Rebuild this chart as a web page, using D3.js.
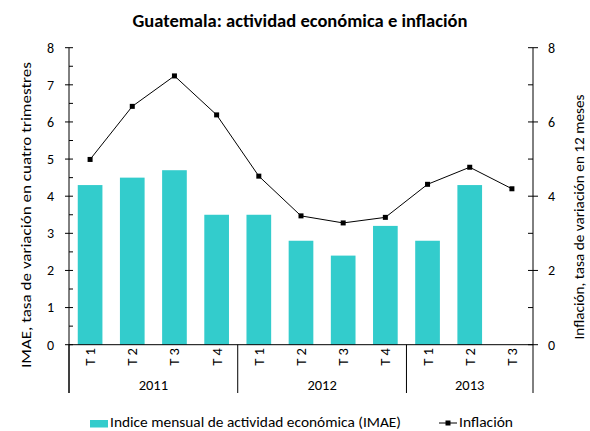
<!DOCTYPE html>
<html><head><meta charset="utf-8">
<script src="https://cdn.jsdelivr.net/npm/d3@7"></script>
<style>
body{margin:0;background:#fff;}
text{font-family:Carlito,Lato,"Liberation Sans",sans-serif;fill:#000;}
</style></head>
<body><svg id="c" width="590" height="431"></svg>
<script>
const quarters = ["T 1","T 2","T 3","T 4","T 1","T 2","T 3","T 4","T 1","T 2","T 3"];
const years = [{label:"2011", start:0, end:4},{label:"2012", start:4, end:8},{label:"2013", start:8, end:11}];
const imae = [4.3, 4.5, 4.7, 3.5, 3.5, 2.8, 2.4, 3.2, 2.8, 4.3, null];
const inflacion = [4.99, 6.42, 7.24, 6.19, 4.54, 3.47, 3.28, 3.43, 4.32, 4.78, 4.2];
const leftTicks = [0,1,2,3,4,5,6,7,8];
const rightTicks = [0,2,4,6,8];

const svg = d3.select("#c");
const L = 69, R = 533, T = 47.7, B = 344.7, catBottom = 393;
const idx = d3.range(quarters.length);
const x = d3.scaleBand().domain(idx).range([L, R]).paddingInner(0.415).paddingOuter(0.2075);
const xs = d3.scaleBand().domain(idx).range([L, R]);
const yL = d3.scaleLinear().domain([0, 8]).range([B, T]);
const yR = d3.scaleLinear().domain([0, 8]).range([B, T]);

svg.append("text").attr("x", 300).attr("y", 26.5).attr("text-anchor","middle")
  .attr("font-size", 17.5).attr("font-weight","bold")
  .attr("textLength", 335).attr("lengthAdjust","spacingAndGlyphs")
  .text("Guatemala: actividad económica e inflación");

// bars
svg.append("g").selectAll("rect").data(idx.filter(i => imae[i] != null)).join("rect")
  .attr("x", i => x(i)).attr("width", x.bandwidth())
  .attr("y", i => yL(imae[i])).attr("height", i => yL(0) - yL(imae[i]))
  .attr("fill", "#33CCCC");

// left axis
const gl = svg.append("g").attr("transform", `translate(${L},0)`);
gl.append("line").attr("y1", T).attr("y2", catBottom).attr("stroke","#000");
gl.selectAll(".maj").data(leftTicks).join("line").attr("x1",-4).attr("x2",4)
  .attr("y1", d=>yL(d)).attr("y2", d=>yL(d)).attr("stroke","#000");
gl.selectAll(".min").data(d3.range(0.5, 8, 1)).join("line").attr("class","min").attr("x1",0).attr("x2",4)
  .attr("y1", d=>yL(d)).attr("y2", d=>yL(d)).attr("stroke","#000");
gl.selectAll("text").data(leftTicks).join("text").attr("x",-15).attr("y", d=>yL(d)).attr("dy","0.35em")
  .attr("text-anchor","end").attr("font-size",14).text(d=>d);

// right axis
const gr = svg.append("g").attr("transform", `translate(${R},0)`);
gr.append("line").attr("y1", T).attr("y2", catBottom).attr("stroke","#000");
gr.selectAll(".maj").data(rightTicks).join("line").attr("x1",-5).attr("x2",5)
  .attr("y1", d=>yR(d)).attr("y2", d=>yR(d)).attr("stroke","#000");
gr.selectAll(".min").data([1,3,5,7]).join("line").attr("class","min").attr("x1",-5).attr("x2",0)
  .attr("y1", d=>yR(d)).attr("y2", d=>yR(d)).attr("stroke","#000");
gr.selectAll("text").data(rightTicks).join("text").attr("x",15).attr("y", d=>yR(d)).attr("dy","0.35em")
  .attr("text-anchor","start").attr("font-size",14).text(d=>d);

// category axis
svg.append("line").attr("x1", L).attr("x2", R).attr("y1", B).attr("y2", B).attr("stroke","#000");
svg.append("g").selectAll("line").data(years).join("line")
  .attr("x1", d=>xs(d.start)).attr("x2", d=>xs(d.start)).attr("y1", B).attr("y2", catBottom).attr("stroke","#000");
svg.append("g").selectAll("text").data(idx).join("text")
  .attr("transform", i => `translate(${xs(i)+xs.bandwidth()/2+5},${357}) rotate(-90)`)
  .attr("text-anchor","middle").attr("font-size",14.5).text(i=>quarters[i]);
svg.append("g").selectAll("text").data(years).join("text")
  .attr("x", d => (xs(d.start) + (d.end < quarters.length ? xs(d.end) : R))/2).attr("y", 390)
  .attr("text-anchor","middle").attr("font-size",14.5).text(d=>d.label);

// line
const line = d3.line().x(i => xs(i)+xs.bandwidth()/2).y(i => yR(inflacion[i]));
svg.append("path").attr("d", line(idx)).attr("fill","none").attr("stroke","#000").attr("stroke-width",1);
svg.append("g").selectAll("rect").data(idx).join("rect")
  .attr("x", i => xs(i)+xs.bandwidth()/2-2.5).attr("y", i => yR(inflacion[i])-2.5)
  .attr("width",5).attr("height",5).attr("fill","#000");

// axis titles
svg.append("text").attr("transform", `translate(31,215) rotate(-90)`)
  .attr("text-anchor","middle").attr("font-size",14.5)
  .attr("textLength", 306).attr("lengthAdjust","spacingAndGlyphs")
  .text("IMAE, tasa de variación en cuatro trimestres");
svg.append("text").attr("transform", `translate(584,217) rotate(-90)`)
  .attr("text-anchor","middle").attr("font-size",14.5)
  .attr("textLength", 245).attr("lengthAdjust","spacingAndGlyphs")
  .text("Inflación, tasa de variación en 12 meses");

// legend
svg.append("rect").attr("x", 90).attr("y", 420).attr("width", 18).attr("height", 7.5).attr("fill","#33CCCC");
svg.append("text").attr("x", 110).attr("y", 427).attr("font-size",14.5)
  .attr("textLength", 291).attr("lengthAdjust","spacingAndGlyphs")
  .text("Indice mensual de actividad económica (IMAE)");
svg.append("line").attr("x1", 439).attr("x2", 457).attr("y1", 423).attr("y2", 423).attr("stroke","#000");
svg.append("rect").attr("x", 445.5).attr("y", 420.5).attr("width",5).attr("height",5).attr("fill","#000");
svg.append("text").attr("x", 459).attr("y", 427).attr("font-size",14.5)
  .attr("textLength", 54).attr("lengthAdjust","spacingAndGlyphs")
  .text("Inflación");
</script></body></html>
